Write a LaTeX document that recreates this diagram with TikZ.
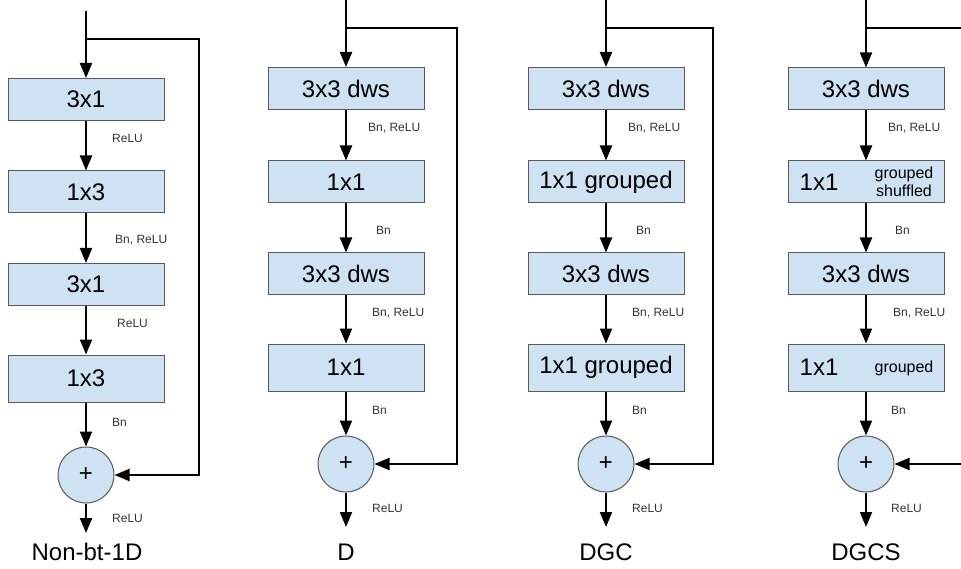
\documentclass[tikz,border=0pt]{standalone}
\usepackage{fontspec}
\setmainfont{Liberation Sans}
\usetikzlibrary{arrows.meta}
\definecolor{boxfill}{HTML}{CFE2F3}
\definecolor{boxline}{HTML}{595959}
\definecolor{labtext}{HTML}{333333}
\begin{document}
\begin{tikzpicture}[x=1pt,y=-1pt,
 blk/.style={draw=boxline, line width=1pt, fill=boxfill, minimum width=156pt, minimum height=42pt, inner sep=0pt, font=\fontsize{24}{28}\selectfont},
 blkt/.style={draw=boxline, line width=1pt, fill=boxfill, minimum width=156pt, minimum height=47pt, inner sep=0pt, font=\fontsize{24}{28}\selectfont},
 addn/.style={circle, draw=boxline, line width=1pt, fill=boxfill, minimum size=56pt, inner sep=0pt, font=\fontsize{24}{26}\selectfont},
 lab/.style={anchor=west, inner sep=0pt, font=\fontsize{12}{14}\selectfont, text=labtext},
 big/.style={inner sep=0pt, font=\fontsize{24}{28}\selectfont},
 small/.style={inner sep=0pt, align=center, font=\fontsize{16}{18}\selectfont},
 ttl/.style={inner sep=0pt, font=\fontsize{24}{28}\selectfont},
 flow/.style={line width=2pt, line join=miter, -{Triangle[length=15pt,width=12pt]}},
]
\useasboundingbox (0,0) rectangle (961,569);

% ---------- Column 1: Non-bt-1D ----------
\node[blk] (a1) at (86,99.5) {3x1};
\node[blk] (a2) at (86,192) {1x3};
\node[blk] (a3) at (86,284.5) {3x1};
\node[blkt] (a4) at (86,378.5) {1x3};
\node[addn] (a5) at (86,475) {+};
\coordinate (a0) at (86,11);
\coordinate (ab) at (86,39);
\coordinate (ac) at (199,39);
\coordinate (ad) at (199,475);
\coordinate (ae) at (86,533);
\node[ttl] (at) at (87,552) {Non-bt-1D};
\draw[flow] (a0) -- (a1);
\draw[flow] (a1) -- (a2);
\draw[flow] (a2) -- (a3);
\draw[flow] (a3) -- (a4);
\draw[flow] (a4) -- (a5);
\draw[flow] (a5) -- (ae);
\draw[flow] (ab) -- (ac) -- (ad) -- (a5);
\node[lab] (al1) at (112,138) {ReLU};
\node[lab] (al2) at (115,240) {Bn, ReLU};
\node[lab] (al3) at (117,323) {ReLU};
\node[lab] (al4) at (112,422) {Bn};
\node[lab] (al5) at (112,518) {ReLU};

% ---------- Column 2: D ----------
\node[blk] (b1) at (346,88.5) {3x3 dws};
\node[blk] (b2) at (346,182) {1x1};
\node[blk] (b3) at (346,274) {3x3 dws};
\node[blkt] (b4) at (346,367.5) {1x1};
\node[addn] (b5) at (346,464) {+};
\coordinate (b0) at (346,0);
\coordinate (bb) at (346,28);
\coordinate (bc) at (457,28);
\coordinate (bd) at (457,464);
\coordinate (be) at (346,527);
\node[ttl] (bt) at (346,552) {D};
\draw[flow] (b0) -- (b1);
\draw[flow] (b1) -- (b2);
\draw[flow] (b2) -- (b3);
\draw[flow] (b3) -- (b4);
\draw[flow] (b4) -- (b5);
\draw[flow] (b5) -- (be);
\draw[flow] (bb) -- (bc) -- (bd) -- (b5);
\node[lab] (bl1) at (368,128) {Bn, ReLU};
\node[lab] (bl2) at (376,230) {Bn};
\node[lab] (bl3) at (372,313) {Bn, ReLU};
\node[lab] (bl4) at (372,410) {Bn};
\node[lab] (bl5) at (372,508) {ReLU};

% ---------- Column 3: DGC ----------
\node[blk] (c1) at (606,88.5) {3x3 dws};
\node[blk] (c2) at (606,182) {1x1 grouped};
\node[blk] (c3) at (606,274) {3x3 dws};
\node[blkt] (c4) at (606,367.5) {1x1 grouped};
\node[addn] (c5) at (606,464) {+};
\coordinate (c0) at (606,0);
\coordinate (cb) at (606,28);
\coordinate (cc) at (713,28);
\coordinate (cd) at (713,464);
\coordinate (ce) at (606,527);
\node[ttl] (ct) at (606,552) {DGC};
\draw[flow] (c0) -- (c1);
\draw[flow] (c1) -- (c2);
\draw[flow] (c2) -- (c3);
\draw[flow] (c3) -- (c4);
\draw[flow] (c4) -- (c5);
\draw[flow] (c5) -- (ce);
\draw[flow] (cb) -- (cc) -- (cd) -- (c5);
\node[lab] (cl1) at (628,128) {Bn, ReLU};
\node[lab] (cl2) at (636,230) {Bn};
\node[lab] (cl3) at (632,313) {Bn, ReLU};
\node[lab] (cl4) at (632,410) {Bn};
\node[lab] (cl5) at (632,508) {ReLU};

% ---------- Column 4: DGCS ----------
\node[blk] (d1) at (866,89) {3x3 dws};
\node[blk] (d2) at (866,182) {};
\node[big] (d2a) at (819,182) {1x1};
\node[small] (d2b) at (904,182) {grouped\\shuffled};
\node[blk] (d3) at (866,274) {3x3 dws};
\node[blkt] (d4) at (866,367.5) {};
\node[big] (d4a) at (819,367.5) {1x1};
\node[small] (d4b) at (904,368.5) {grouped};
\node[addn] (d5) at (866,464) {+};
\coordinate (d0) at (866,0);
\coordinate (db) at (866,28);
\coordinate (dc) at (961,28);
\coordinate (dd) at (961,464);
\coordinate (de) at (866,527);
\node[ttl] (dt) at (866,552) {DGCS};
\draw[flow] (d0) -- (d1);
\draw[flow] (d1) -- (d2);
\draw[flow] (d2) -- (d3);
\draw[flow] (d3) -- (d4);
\draw[flow] (d4) -- (d5);
\draw[flow] (d5) -- (de);
\draw[line width=2pt] (db) -- (dc);
\draw[flow] (dd) -- (d5);
\node[lab] (dl1) at (888,128) {Bn, ReLU};
\node[lab] (dl2) at (895,230) {Bn};
\node[lab] (dl3) at (893,313) {Bn, ReLU};
\node[lab] (dl4) at (891,410) {Bn};
\node[lab] (dl5) at (891,508) {ReLU};
\end{tikzpicture}
\end{document}
